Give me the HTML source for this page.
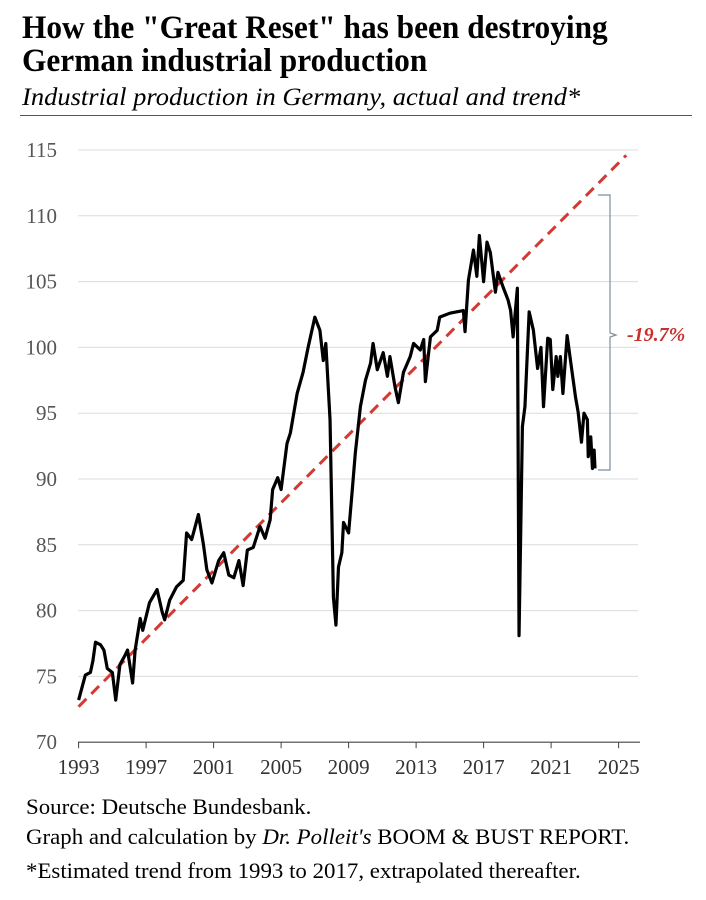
<!DOCTYPE html>
<html><head><meta charset="utf-8">
<style>
body{margin:0;background:#fff;width:706px;height:900px;overflow:hidden;font-family:"Liberation Serif",serif;}
.t{position:absolute;left:22px;font-weight:bold;font-size:33px;line-height:33px;color:#000;transform:scaleX(0.95);transform-origin:0 0;white-space:nowrap;}
.s{position:absolute;left:22px;top:84px;font-style:italic;font-size:25px;color:#000;transform:scaleX(1.06);transform-origin:0 0;white-space:nowrap;}
.hr{position:absolute;left:20px;top:115px;width:672px;height:1px;background:#555;}
.f{position:absolute;left:26px;font-size:22px;color:#000;transform:scaleX(1.04);transform-origin:0 0;white-space:nowrap;}
</style></head><body>
<div class="t" style="top:12px">How the "Great Reset" has been destroying<br>German industrial production</div>
<div class="s">Industrial production in Germany, actual and trend*</div>
<div class="hr"></div>
<svg id="c" width="706" height="900" style="position:absolute;left:0;top:0"></svg>
<div class="f" style="top:794px">Source: Deutsche Bundesbank.</div>
<div class="f" style="top:824px">Graph and calculation by <i>Dr. Polleit's</i> BOOM &amp; BUST REPORT.</div>
<div class="f" style="top:858px">*Estimated trend from 1993 to 2017, extrapolated thereafter.</div>
<script>
const yTicks=[70,75,80,85,90,95,100,105,110,115];
const xTicks=[1993,1997,2001,2005,2009,2013,2017,2021,2025];
const trendStart=[1993,72.7];
const trendEnd=[2025.45,114.6];
const years=[1993.0,1993.4,1993.7,1993.85,1994.0,1994.3,1994.5,1994.7,1995.0,1995.2,1995.45,1995.75,1995.9,1996.2,1996.35,1996.65,1996.8,1997.2,1997.65,1997.95,1998.1,1998.4,1998.8,1999.2,1999.4,1999.7,2000.1,2000.4,2000.6,2000.9,2001.3,2001.6,2001.9,2002.2,2002.5,2002.75,2003.0,2003.35,2003.75,2004.05,2004.35,2004.5,2004.8,2005.0,2005.35,2005.55,2005.95,2006.3,2006.6,2007.0,2007.3,2007.5,2007.65,2007.9,2008.1,2008.25,2008.4,2008.6,2008.7,2009.0,2009.2,2009.4,2009.7,2010.0,2010.3,2010.45,2010.7,2011.05,2011.3,2011.45,2011.75,2011.95,2012.25,2012.65,2012.85,2013.25,2013.45,2013.55,2013.85,2014.25,2014.4,2015.0,2015.8,2015.9,2016.1,2016.4,2016.6,2016.75,2017.0,2017.2,2017.4,2017.7,2017.85,2018.15,2018.45,2018.6,2018.75,2019.0,2019.1,2019.3,2019.45,2019.7,2019.95,2020.2,2020.4,2020.55,2020.8,2020.95,2021.1,2021.3,2021.4,2021.55,2021.7,2021.95,2022.15,2022.45,2022.6,2022.8,2022.95,2023.15,2023.2,2023.35,2023.45,2023.55,2023.6];
const values=[73.2,75.1,75.3,76.2,77.6,77.4,77.0,75.6,75.3,73.2,75.9,76.6,77.0,74.5,77.0,79.4,78.5,80.6,81.6,79.9,79.3,80.8,81.8,82.3,85.9,85.4,87.3,85.0,83.1,82.1,83.8,84.4,82.7,82.5,83.8,81.9,84.6,84.8,86.4,85.5,86.9,89.2,90.1,89.2,92.7,93.5,96.5,98.1,100.0,102.3,101.3,99.0,100.3,94.5,81.0,78.9,83.3,84.4,86.7,85.9,88.9,92.0,95.5,97.5,98.8,100.3,98.3,99.6,97.8,99.3,97.0,95.8,98.1,99.3,100.3,99.8,100.6,97.4,100.8,101.3,102.3,102.6,102.8,101.2,105.1,107.4,105.4,108.5,105.0,108.0,107.2,104.2,105.7,104.6,103.6,102.8,100.8,104.5,78.1,94.0,95.5,102.7,101.3,98.4,100.0,95.5,100.7,100.6,96.8,99.3,97.8,99.3,96.5,100.9,99.0,96.2,95.1,92.8,95.0,94.5,91.7,93.2,90.8,92.2,90.8];
const NS='http://www.w3.org/2000/svg';
const svg=document.getElementById('c');
const X=y=>78.6+(y-1993)*16.875;
const Y=v=>150+(115-v)*13.16;
function mk(t,a){const e=document.createElementNS(NS,t);for(const k in a)e.setAttribute(k,a[k]);svg.appendChild(e);return e;}
yTicks.forEach(v=>{
  if(v>70){const g=mk('line',{x1:78,x2:638,y1:Y(v),y2:Y(v),stroke:'#dcdcdc','stroke-width':1});
  
  }
  const t=mk('text',{x:57,y:Y(v)+7,'text-anchor':'end','font-size':21,fill:'#555','font-family':'Liberation Serif, serif'});
  t.textContent=v;
  
  
});
const ax=mk('line',{x1:78,x2:640,y1:Y(70),y2:Y(70),stroke:'#444','stroke-width':1.2});


xTicks.forEach(yr=>{
  const tk=mk('line',{x1:X(yr),x2:X(yr),y1:Y(70),y2:Y(70)+6,stroke:'#444'});
  
  
  const t=mk('text',{x:X(yr),y:Y(70)+32,'text-anchor':'middle','font-size':21,fill:'#333','font-family':'Liberation Serif, serif'});
  t.textContent=yr;
  
  
});
const tr=mk('line',{x1:X(trendStart[0]),y1:Y(trendStart[1]),x2:X(trendEnd[0]),y2:Y(trendEnd[1]),stroke:'#d33a33','stroke-width':3,'stroke-dasharray':'11 7'});


const pl=mk('polyline',{points:years.map((y,i)=>X(y)+','+Y(values[i])).join(' '),fill:'none',stroke:'#000','stroke-width':3.2,'stroke-linejoin':'round'});


const br=mk('path',{d:'M598 195 H610 V333 L616 335 L610 337 V470 H598',fill:'none',stroke:'#7a8ea0','stroke-width':1.2});


const lb=mk('text',{x:627,y:341,'font-size':20,'font-weight':'bold','font-style':'italic',fill:'#c9302c','font-family':'Liberation Serif, serif'});
lb.textContent='-19.7%';


</script>
</body></html>
